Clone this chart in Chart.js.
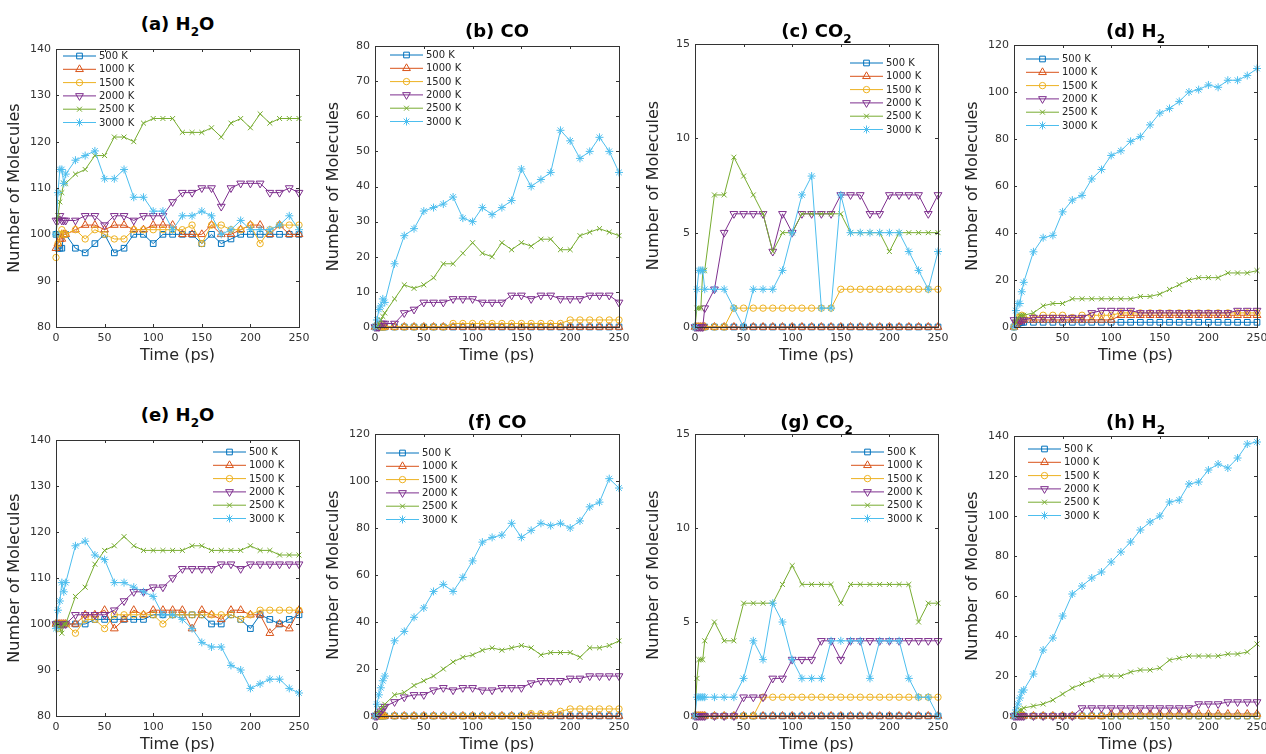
<!DOCTYPE html>
<html lang="en">
<head>
  <meta charset="UTF-8" />
  <title>Number of Molecules vs Time</title>
  <script src="https://cdn.jsdelivr.net/npm/chart.js@4.4.3/dist/chart.umd.min.js"></script>
  <style>
    body {
      margin: 0;
      background: #fff;
      width: 1266px;
      height: 754px;
      overflow: hidden;
      position: relative;
      font-family: 'DejaVu Sans', sans-serif;
    }
    .panel { position: absolute; }
    .title {
      position: absolute;
      width: 240px;
      text-align: center;
      font-weight: bold;
      font-size: 18px;
      line-height: 22px;
      color: #000;
      white-space: nowrap;
    }
    .title span {
      font-size: 12px;
      position: relative;
      top: 6px;
    }
  </style>
</head>
<body>
  <div id="figure"></div>

  <script>
    // time axis (ps)
    const times = [0, 2, 4, 6, 8, 10, 20, 30, 40, 50, 60, 70, 80, 90, 100, 110, 120, 130, 140, 150, 160, 170, 180, 190, 200, 210, 220, 230, 240, 250];
    const temps = ['500 K', '1000 K', '1500 K', '2000 K', '2500 K', '3000 K'];

    // rows: 500 K, 1000 K, 1500 K, 2000 K, 2500 K, 3000 K
    const aH2O = [
      [100, 97, 97, 97, 100, 100, 97, 96, 98, 100, 96, 97, 100, 100, 98, 100, 100, 100, 100, 98, 100, 98, 99, 100, 100, 100, 100, 100, 100, 100],
      [97, 98, 99, 99, 100, 100, 101, 102, 102, 101, 102, 102, 101, 101, 102, 102, 102, 100, 100, 100, 102, 100, 100, 101, 102, 102, 100, 102, 100, 100],
      [95, 98, 100, 101, 100, 100, 101, 99, 101, 100, 99, 99, 101, 101, 101, 101, 101, 101, 102, 98, 102, 102, 101, 101, 102, 98, 101, 102, 102, 102],
      [103, 103, 104, 103, 103, 103, 103, 104, 104, 102, 104, 104, 103, 104, 104, 104, 107, 109, 109, 110, 110, 106, 110, 111, 111, 111, 109, 109, 110, 109],
      [100, 104, 107, 109, 111, 111, 113, 114, 117, 117, 121, 121, 120, 124, 125, 125, 125, 122, 122, 122, 123, 121, 124, 125, 123, 126, 124, 125, 125, 125],
      [100, 109, 114, 114, 111, 113, 116, 117, 118, 112, 112, 114, 108, 108, 105, 105, 101, 104, 104, 105, 104, 100, 101, 103, 101, 101, 101, 102, 104, 101]
    ];
    const bCO = [
      [0, 0, 0, 0, 0, 0, 0, 0, 0, 0, 0, 0, 0, 0, 0, 0, 0, 0, 0, 0, 0, 0, 0, 0, 0, 0, 0, 0, 0, 0],
      [0, 0, 0, 0, 0, 0, 0, 0, 0, 0, 0, 0, 0, 0, 0, 0, 0, 0, 0, 0, 0, 0, 0, 0, 0, 0, 0, 0, 0, 0],
      [0, 0, 0, 0, 0, 0, 0, 0, 0, 0, 0, 0, 1, 1, 1, 1, 1, 1, 1, 1, 1, 1, 1, 1, 2, 2, 2, 2, 2, 2],
      [0, 0, 0, 1, 1, 1, 1, 4, 5, 7, 7, 7, 8, 8, 8, 7, 7, 7, 9, 9, 8, 9, 9, 8, 8, 8, 9, 9, 9, 7],
      [0, 0, 1, 2, 3, 4, 8, 12, 11, 12, 14, 18, 18, 21, 24, 21, 20, 24, 22, 24, 23, 25, 25, 22, 22, 26, 27, 28, 27, 26],
      [0, 2, 5, 6, 8, 7, 18, 26, 28, 33, 34, 35, 37, 31, 30, 34, 32, 34, 36, 45, 40, 42, 44, 56, 53, 48, 50, 54, 50, 44]
    ];
    const cCO2 = [
      [0, 0, 0, 0, 0, 0, 0, 0, 0, 0, 0, 0, 0, 0, 0, 0, 0, 0, 0, 0, 0, 0, 0, 0, 0, 0, 0, 0, 0, 0],
      [0, 0, 0, 0, 0, 0, 0, 0, 0, 0, 0, 0, 0, 0, 0, 0, 0, 0, 0, 0, 0, 0, 0, 0, 0, 0, 0, 0, 0, 0],
      [0, 0, 0, 0, 0, 0, 0, 0, 1, 1, 1, 1, 1, 1, 1, 1, 1, 1, 1, 2, 2, 2, 2, 2, 2, 2, 2, 2, 2, 2],
      [0, 0, 0, 0, 0, 1, 2, 5, 6, 6, 6, 6, 4, 6, 5, 6, 6, 6, 6, 7, 7, 7, 6, 6, 7, 7, 7, 7, 6, 7],
      [0, 1, 1, 1, 3, 3, 7, 7, 9, 8, 7, 6, 4, 5, 5, 6, 6, 6, 6, 6, 5, 5, 5, 5, 4, 5, 5, 5, 5, 5],
      [0, 2, 3, 3, 3, 2, 2, 2, 1, 0, 2, 2, 2, 3, 5, 7, 8, 1, 1, 7, 5, 5, 5, 5, 5, 5, 4, 3, 2, 4]
    ];
    const dH2 = [
      [0, 1, 1, 2, 2, 2, 2, 2, 2, 2, 2, 2, 2, 2, 2, 2, 2, 2, 2, 2, 2, 2, 2, 2, 2, 2, 2, 2, 2, 2],
      [0, 1, 2, 3, 3, 3, 3, 3, 3, 3, 3, 3, 3, 3, 3, 5, 5, 5, 5, 5, 5, 5, 5, 5, 5, 5, 5, 5, 5, 5],
      [0, 2, 4, 4, 5, 4, 4, 5, 5, 5, 4, 5, 5, 5, 5, 6, 6, 6, 6, 6, 6, 6, 6, 6, 6, 6, 6, 6, 6, 6],
      [3, 2, 3, 3, 3, 3, 4, 4, 4, 4, 4, 4, 6, 7, 7, 7, 7, 6, 6, 6, 6, 6, 6, 6, 6, 6, 6, 7, 7, 7],
      [0, 2, 4, 5, 5, 5, 6, 9, 10, 10, 12, 12, 12, 12, 12, 12, 12, 13, 13, 14, 16, 18, 20, 21, 21, 21, 23, 23, 23, 24],
      [0, 7, 10, 10, 15, 19, 32, 38, 39, 49, 54, 56, 63, 67, 73, 75, 79, 81, 86, 91, 93, 96, 100, 101, 103, 102, 105, 105, 107, 110]
    ];
    const eH2O = [
      [100, 100, 100, 100, 100, 100, 100, 100, 101, 101, 101, 101, 101, 101, 102, 102, 102, 102, 102, 102, 100, 100, 102, 101, 99, 102, 101, 100, 101, 102],
      [100, 100, 100, 100, 100, 100, 100, 102, 102, 103, 99, 101, 103, 102, 103, 103, 103, 103, 99, 103, 102, 101, 103, 103, 102, 102, 98, 100, 99, 103],
      [100, 99, 100, 100, 100, 100, 98, 101, 101, 99, 102, 102, 102, 102, 102, 100, 102, 102, 102, 102, 102, 102, 102, 101, 102, 103, 103, 103, 103, 103],
      [100, 100, 100, 100, 100, 100, 102, 102, 102, 102, 103, 105, 107, 107, 108, 108, 110, 112, 112, 112, 112, 113, 113, 112, 113, 113, 113, 113, 113, 113],
      [100, 100, 99, 98, 100, 100, 106, 108, 113, 116, 117, 119, 117, 116, 116, 116, 116, 116, 117, 117, 116, 116, 116, 116, 117, 116, 116, 115, 115, 115],
      [99, 103, 105, 109, 107, 109, 117, 118, 115, 114, 109, 109, 108, 107, 106, 102, 102, 101, 99, 96, 95, 95, 91, 90, 86, 87, 88, 88, 86, 85]
    ];
    const fCO = [
      [0, 0, 0, 0, 0, 0, 0, 0, 0, 0, 0, 0, 0, 0, 0, 0, 0, 0, 0, 0, 0, 0, 0, 0, 0, 0, 0, 0, 0, 0],
      [0, 0, 0, 0, 0, 0, 0, 0, 0, 0, 0, 0, 0, 0, 0, 0, 0, 0, 0, 0, 0, 0, 0, 0, 0, 0, 0, 0, 0, 0],
      [0, 0, 0, 0, 0, 0, 0, 0, 0, 0, 0, 0, 0, 0, 0, 0, 0, 0, 0, 0, 1, 1, 1, 2, 3, 3, 3, 3, 3, 3],
      [0, 0, 1, 2, 3, 4, 6, 8, 9, 9, 11, 12, 11, 12, 12, 11, 11, 12, 12, 12, 14, 15, 15, 15, 16, 16, 17, 17, 17, 17],
      [0, 1, 2, 3, 4, 5, 9, 10, 13, 15, 17, 20, 23, 25, 26, 28, 29, 28, 29, 30, 29, 26, 27, 27, 27, 25, 29, 29, 30, 32],
      [0, 5, 9, 12, 15, 17, 32, 36, 42, 46, 53, 56, 53, 59, 66, 74, 76, 77, 82, 76, 79, 82, 81, 82, 80, 83, 89, 91, 101, 97]
    ];
    const gCO2 = [
      [0, 0, 0, 0, 0, 0, 0, 0, 0, 0, 0, 0, 0, 0, 0, 0, 0, 0, 0, 0, 0, 0, 0, 0, 0, 0, 0, 0, 0, 0],
      [0, 0, 0, 0, 0, 0, 0, 0, 0, 0, 0, 0, 0, 0, 0, 0, 0, 0, 0, 0, 0, 0, 0, 0, 0, 0, 0, 0, 0, 0],
      [0, 0, 0, 0, 0, 0, 0, 0, 0, 0, 0, 1, 1, 1, 1, 1, 1, 1, 1, 1, 1, 1, 1, 1, 1, 1, 1, 1, 1, 1],
      [0, 0, 0, 0, 0, 0, 0, 0, 0, 1, 1, 1, 2, 2, 3, 3, 3, 4, 4, 3, 4, 4, 4, 4, 4, 4, 4, 4, 4, 4],
      [0, 2, 3, 3, 3, 4, 5, 4, 4, 6, 6, 6, 6, 7, 8, 7, 7, 7, 7, 6, 7, 7, 7, 7, 7, 7, 7, 5, 6, 6],
      [0, 1, 1, 1, 1, 1, 1, 1, 1, 2, 4, 3, 6, 5, 3, 2, 2, 2, 4, 4, 4, 4, 2, 4, 4, 4, 2, 1, 1, 0]
    ];
    const hH2 = [
      [0, 0, 0, 0, 0, 0, 0, 0, 0, 0, 0, 0, 0, 0, 0, 0, 0, 0, 0, 0, 0, 0, 0, 0, 0, 0, 0, 0, 0, 0],
      [0, 0, 0, 0, 0, 0, 0, 0, 0, 0, 0, 0, 0, 0, 1, 1, 1, 1, 1, 1, 1, 1, 1, 1, 1, 1, 1, 1, 1, 1],
      [0, 0, 0, 0, 0, 0, 0, 0, 0, 0, 0, 0, 0, 0, 0, 0, 0, 0, 0, 0, 0, 0, 0, 0, 0, 0, 0, 0, 0, 0],
      [0, 0, 0, 0, 0, 0, 0, 0, 0, 0, 0, 4, 4, 4, 4, 4, 4, 4, 4, 4, 4, 4, 4, 6, 6, 6, 7, 7, 7, 7],
      [0, 1, 2, 3, 3, 4, 5, 6, 8, 11, 14, 16, 18, 20, 20, 20, 22, 23, 23, 24, 28, 29, 30, 30, 30, 30, 31, 31, 32, 36],
      [0, 3, 6, 9, 12, 13, 21, 33, 39, 50, 61, 65, 69, 72, 77, 82, 87, 93, 97, 100, 107, 108, 116, 117, 123, 126, 124, 129, 136, 137]
    ];

    // y axis [min, max, step] per panel
    const yRanges = [[80, 140, 10], [0, 80, 10], [0, 15, 5], [0, 120, 20], [80, 140, 10], [0, 120, 20], [0, 15, 5], [0, 140, 20]];
    const titles = ['(a) H<span>2</span>O', '(b) CO', '(c) CO<span>2</span>', '(d) H<span>2</span>',
                    '(e) H<span>2</span>O', '(f) CO', '(g) CO<span>2</span>', '(h) H<span>2</span>'];

    const colors = ['#0072BD', '#D95319', '#EDB120', '#7E2F8E', '#77AC30', '#4DBEEE'];
    const markers = [
      { style: 'rect', rot: 0, r: 4 },
      { style: 'triangle', rot: 0, r: 4.5 },
      { style: 'circle', rot: 0, r: 3.2 },
      { style: 'triangle', rot: 180, r: 4.5 },
      { style: 'crossRot', rot: 0, r: 3.5 },
      { style: 'star', rot: 0, r: 4 }
    ];

    // plot-area rectangles [left, top, right, bottom] and legend placement
    const panels = [
      { data: aH2O, box: [56, 49, 299, 327], leg: ['left', 7, 7], titleTop: 13 },
      { data: bCO, box: [375, 46, 619, 327], leg: ['left', 15, 9], titleTop: 20 },
      { data: cCO2, box: [695, 44, 938, 327], leg: ['right', 88, 19], titleTop: 20 },
      { data: dH2, box: [1014, 45, 1257, 327], leg: ['left', 12, 14], titleTop: 20 },
      { data: eH2O, box: [56, 440, 299, 716], leg: ['right', 86, 12], titleTop: 404 },
      { data: fCO, box: [375, 434, 619, 716], leg: ['left', 11, 19], titleTop: 411 },
      { data: gCO2, box: [695, 434, 938, 716], leg: ['right', 87, 18], titleTop: 411 },
      { data: hH2, box: [1014, 436, 1257, 716], leg: ['left', 14, 13], titleTop: 411 }
    ];

    const AXIS = '#333333';
    const PAD_L = 56, PAD_T = 8, PAD_R = 12, PAD_B = 48;

    // MATLAB-like box with inward ticks
    const boxPlugin = {
      id: 'box',
      afterDraw(chart) {
        const { ctx, chartArea: a, scales: { x, y } } = chart;
        ctx.save();
        ctx.strokeStyle = AXIS;
        ctx.lineWidth = 1;
        ctx.strokeRect(Math.round(a.left) + 0.5, Math.round(a.top) + 0.5,
                       Math.round(a.right - a.left), Math.round(a.bottom - a.top));
        ctx.beginPath();
        x.ticks.forEach(t => {
          const px = Math.round(x.getPixelForValue(t.value)) + 0.5;
          ctx.moveTo(px, a.bottom); ctx.lineTo(px, a.bottom - 3);
          ctx.moveTo(px, a.top); ctx.lineTo(px, a.top + 3);
        });
        y.ticks.forEach(t => {
          const py = Math.round(y.getPixelForValue(t.value)) + 0.5;
          ctx.moveTo(a.left, py); ctx.lineTo(a.left + 3, py);
          ctx.moveTo(a.right, py); ctx.lineTo(a.right - 3, py);
        });
        ctx.stroke();
        ctx.restore();
      }
    };

    // legend drawn inside the plot area
    const innerLegend = {
      id: 'innerLegend',
      afterDraw(chart, args, opts) {
        const { ctx, chartArea: a } = chart;
        const [side, dx, dy] = opts.place;
        const x0 = side === 'left' ? a.left + dx : a.right - dx;
        ctx.save();
        ctx.font = '10px "DejaVu Sans"';
        ctx.textBaseline = 'middle';
        chart.data.datasets.forEach((ds, i) => {
          const yy = a.top + dy + i * 13.3;
          ctx.strokeStyle = ds.borderColor;
          ctx.lineWidth = 1;
          ctx.beginPath();
          ctx.moveTo(x0, yy); ctx.lineTo(x0 + 33, yy);
          ctx.stroke();
          ctx.fillStyle = 'rgba(0,0,0,0)';
          Chart.helpers.drawPoint(ctx, {
            pointStyle: ds.pointStyle, rotation: ds.pointRotation,
            radius: ds.pointRadius, borderWidth: 1
          }, x0 + 16.5, yy);
          ctx.fillStyle = '#262626';
          ctx.fillText(ds.label, x0 + 36, yy + 0.5);
        });
        ctx.restore();
      }
    };

    const fig = document.getElementById('figure');

    panels.forEach((p, k) => {
      const [L, T, R, B] = p.box;
      const wrap = document.createElement('div');
      wrap.className = 'panel';
      wrap.style.left = (L - PAD_L) + 'px';
      wrap.style.top = (T - PAD_T) + 'px';
      const canvas = document.createElement('canvas');
      canvas.width = R - L + PAD_L + PAD_R;
      canvas.height = B - T + PAD_T + PAD_B;
      wrap.appendChild(canvas);
      fig.appendChild(wrap);

      const title = document.createElement('div');
      title.className = 'title';
      title.innerHTML = titles[k];
      title.style.left = ((L + R) / 2 - 120) + 'px';
      title.style.top = p.titleTop + 'px';
      fig.appendChild(title);

      const [yMin, yMax, yStep] = yRanges[k];

      new Chart(canvas, {
        type: 'line',
        data: {
          datasets: temps.map((t, i) => ({
            label: t,
            data: times.map((x, j) => ({ x: x, y: p.data[i][j] })),
            borderColor: colors[i],
            borderWidth: 1,
            pointStyle: markers[i].style,
            pointRotation: markers[i].rot,
            pointRadius: markers[i].r,
            pointBorderColor: colors[i],
            pointBackgroundColor: 'rgba(0,0,0,0)',
            pointBorderWidth: 1,
            tension: 0,
            clip: false,
            order: 5 - i
          }))
        },
        options: {
          responsive: false,
          animation: false,
          events: [],
          layout: { padding: { left: 0, top: PAD_T, right: PAD_R, bottom: 0 } },
          plugins: {
            legend: { display: false },
            tooltip: { enabled: false },
            innerLegend: { place: p.leg }
          },
          scales: {
            x: {
              type: 'linear',
              min: 0,
              max: 250,
              grid: { display: false, drawTicks: false },
              border: { display: false },
              ticks: { stepSize: 50, padding: 5, color: AXIS, font: { family: 'DejaVu Sans', size: 11 }, maxRotation: 0 },
              title: { display: true, text: 'Time (ps)', color: '#262626', font: { family: 'DejaVu Sans', size: 16 }, padding: { top: 0, bottom: 10 } },
              afterFit: s => { s.height = PAD_B; s.paddingLeft = 0; s.paddingRight = 0; }
            },
            y: {
              min: yMin,
              max: yMax,
              grid: { display: false, drawTicks: false },
              border: { display: false },
              ticks: { stepSize: yStep, padding: 5, color: AXIS, font: { family: 'DejaVu Sans', size: 11 } },
              title: { display: true, text: 'Number of Molecules', color: '#262626', font: { family: 'DejaVu Sans', size: 16 }, padding: { top: 5, bottom: 0 } },
              afterFit: s => { s.width = PAD_L; s.paddingTop = 0; s.paddingBottom = 0; }
            }
          }
        },
        plugins: [boxPlugin, innerLegend]
      });
    });
  </script>
</body>
</html>
